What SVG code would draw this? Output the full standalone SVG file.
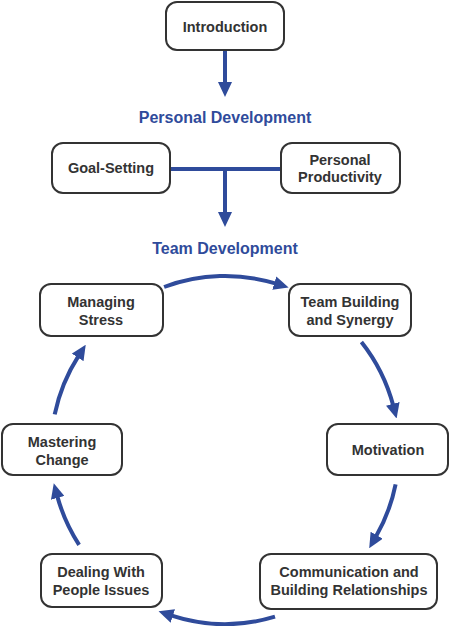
<svg xmlns="http://www.w3.org/2000/svg" width="450" height="626" viewBox="0 0 450 626">
<defs>
<style>
.box{fill:#fff;stroke:#333;stroke-width:2}
.t{font-family:"Liberation Sans",Arial,sans-serif;font-weight:bold;font-size:14.5px;fill:#333;text-anchor:middle}
.h{font-family:"Liberation Sans",Arial,sans-serif;font-weight:bold;font-size:16px;fill:#2F4B9B;text-anchor:middle}
.c{fill:none;stroke:#2F4B9B;stroke-width:4}
</style>
<marker id="ah" markerUnits="userSpaceOnUse" markerWidth="15" markerHeight="14" viewBox="0 0 15 14" refX="2" refY="7" orient="auto">
<path d="M0,0 L15,7 L0,14 z" fill="#2F4B9B"/>
</marker>
</defs>
<rect width="450" height="626" fill="#fff"/>
<g id="connectors">
<path class="c" d="M225,50 V84" marker-end="url(#ah)"/>
<path class="c" d="M170,169 H281 M225,169 V214" marker-end="url(#ah)"/>
<path class="c" d="M164.1,287 A174,174 0 0 1 276.2,283.7" marker-end="url(#ah)"/>
<path class="c" d="M361.4,341.9 A174,174 0 0 1 393.3,405.8" marker-end="url(#ah)"/>
<path class="c" d="M395.6,484.4 A174,174 0 0 1 375.7,537" marker-end="url(#ah)"/>
<path class="c" d="M275,616.7 A174,174 0 0 1 170.9,615.4" marker-end="url(#ah)"/>
<path class="c" d="M79.1,544.8 A174,174 0 0 1 57.2,495.9" marker-end="url(#ah)"/>
<path class="c" d="M54.7,414.4 A174,174 0 0 1 78.7,355.7" marker-end="url(#ah)"/>
</g>
<g id="intro"><rect class="box" x="166" y="2" width="118" height="48" rx="11"/><text class="t" x="225" y="32">Introduction</text></g>
<text id="personal-dev" class="h" x="225" y="123">Personal Development</text>
<g id="goal"><rect class="box" x="52" y="143" width="118" height="50" rx="11"/><text class="t" x="111" y="173">Goal-Setting</text></g>
<g id="productivity"><rect class="box" x="281" y="143" width="119" height="50" rx="11"/><text class="t" x="340" y="165">Personal</text><text class="t" x="340" y="182">Productivity</text></g>
<text id="team-dev" class="h" x="225" y="254">Team Development</text>
<g id="stress"><rect class="box" x="40" y="284" width="123" height="52" rx="11"/><text class="t" x="101" y="307">Managing</text><text class="t" x="101" y="325">Stress</text></g>
<g id="team"><rect class="box" x="289" y="284" width="122" height="52" rx="11"/><text class="t" x="350" y="307">Team Building</text><text class="t" x="350" y="325">and Synergy</text></g>
<g id="motivation"><rect class="box" x="327" y="424" width="121" height="51" rx="11"/><text class="t" x="388" y="455">Motivation</text></g>
<g id="change"><rect class="box" x="2" y="424" width="120" height="51" rx="11"/><text class="t" x="62" y="447">Mastering</text><text class="t" x="62" y="465">Change</text></g>
<g id="people"><rect class="box" x="41" y="554" width="121" height="53" rx="11"/><text class="t" x="101" y="577">Dealing With</text><text class="t" x="101" y="595">People Issues</text></g>
<g id="communication"><rect class="box" x="260" y="554" width="177" height="55" rx="11"/><text class="t" x="349" y="577">Communication and</text><text class="t" x="349" y="595">Building Relationships</text></g>
</svg>
